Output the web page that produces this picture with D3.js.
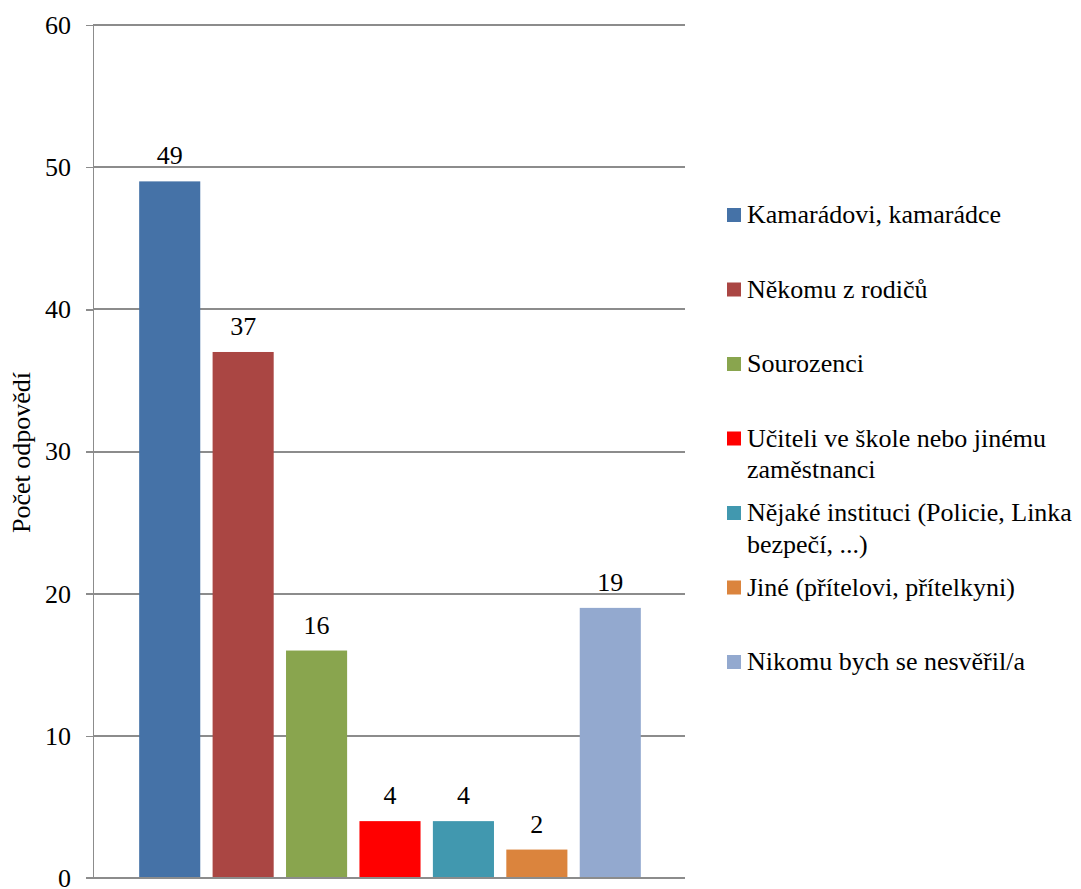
<!DOCTYPE html>
<meta charset="utf-8">
<body style="margin:0">
<script src="https://d3js.org/d3.v7.min.js"></script>
<script>

// data
var categories = ["Kamarádovi, kamarádce", "Někomu z rodičů", "Sourozenci",
    "Učiteli ve škole nebo jinému\nzaměstnanci",
    "Nějaké instituci (Policie, Linka\nbezpečí, ...)",
    "Jiné (přítelovi, přítelkyni)", "Nikomu bych se nesvěřil/a"];
var values = [49, 37, 16, 4, 4, 2, 19];
var colors = ["#4572A7", "#AA4643", "#89A54E", "#FF0000", "#4198AF", "#DB843D", "#93A9CF"];
var yTicks = [0, 10, 20, 30, 40, 50, 60];
var yTitle = "Počet odpovědí";

var W = 1081, H = 889;
var margin = {top: 25, right: 396, bottom: 11, left: 93},
    width = W - margin.left - margin.right,
    height = H - margin.top - margin.bottom;

var fs = 26;
var serif = "Liberation Serif, Tinos, Times New Roman, DejaVu Serif, serif";
var gridColor = "#8c8c8c";

var svg = d3.select("body").append("svg")
    .attr("width", W)
    .attr("height", H)
    .attr("font-family", serif)
    .attr("font-size", fs);

var g = svg.append("g")
    .attr("transform", "translate(" + margin.left + "," + margin.top + ")");

var y = d3.scaleLinear().domain([0, 60]).range([height, 0]);

var x = d3.scaleBand()
    .domain(d3.range(values.length))
    .range([40, 554])
    .paddingInner(0.168)
    .paddingOuter(0.084);

// gridlines
g.append("g")
  .selectAll("line")
  .data(yTicks)
  .enter().append("line")
    .attr("x1", 0).attr("x2", width)
    .attr("y1", function(d) { return Math.round(y(d)); })
    .attr("y2", function(d) { return Math.round(y(d)); })
    .attr("stroke", gridColor).attr("stroke-width", 1.5)
    .attr("shape-rendering", "crispEdges");

var yAxis = d3.axisLeft(y).tickValues(yTicks).tickSize(7).tickFormat("");
var ax = g.append("g").call(yAxis)
    .attr("font-family", serif)
    .attr("font-size", fs);
ax.selectAll("path, line")
    .attr("stroke", gridColor).attr("stroke-width", 1.5)
    .attr("shape-rendering", "crispEdges");

function label(sel) {
  sel.attr("font-family", serif)
     .attr("font-size", fs)
     .attr("fill", "#000")
     .style("font-family", serif);
}

// tick labels
g.selectAll(".tick-label")
    .data(yTicks)
  .enter().append("text")
    .attr("class", "tick-label")
    .attr("x", -22)
    .attr("y", function(d) { return y(d); })
    .attr("dy", "0.34em")
    .attr("text-anchor", "end")
    .call(label)
    .text(function(d) { return d; });

g.selectAll(".bar")
    .data(values)
  .enter().append("rect")
    .attr("class", "bar")
    .attr("x", function(d, i) { return x(i); })
    .attr("width", x.bandwidth())
    .attr("y", function(d) { return y(d); })
    .attr("height", function(d) { return height - y(d); })
    .attr("fill", function(d, i) { return colors[i]; });

g.selectAll(".lbl")
    .data(values)
  .enter().append("text")
    .attr("class", "lbl")
    .attr("x", function(d, i) { return x(i) + x.bandwidth() / 2; })
    .attr("y", function(d) { return y(d) - 17; })
    .attr("text-anchor", "middle")
    .call(label)
    .text(function(d) { return d; });

// redraw the zero line on top of bars
g.append("line")
    .attr("x1", -7).attr("x2", width)
    .attr("y1", height).attr("y2", height)
    .attr("stroke", gridColor).attr("stroke-width", 1.5)
    .attr("shape-rendering", "crispEdges");

svg.append("text")
    .attr("transform", "translate(30," + (margin.top + height / 2 + 1) + ") rotate(-90)")
    .attr("text-anchor", "middle")
    .call(label)
    .text(yTitle);

// legend
var legend = svg.append("g").attr("transform", "translate(727,223)");
var item = legend.selectAll(".item")
    .data(categories)
  .enter().append("g")
    .attr("class", "item")
    .attr("transform", function(d, i) { return "translate(0," + (i * 74.5) + ")"; });

item.append("rect")
    .attr("x", 0).attr("y", -15)
    .attr("width", 14).attr("height", 14)
    .attr("fill", function(d, i) { return colors[i]; });

item.append("text")
    .attr("x", 20)
    .call(label)
    .each(function(d) {
      var t = d3.select(this);
      d.split("\n").forEach(function(line, k) {
        t.append("tspan").attr("x", 20).attr("dy", k === 0 ? 0 : 31.5).text(line);
      });
    });

</script>
</body>
